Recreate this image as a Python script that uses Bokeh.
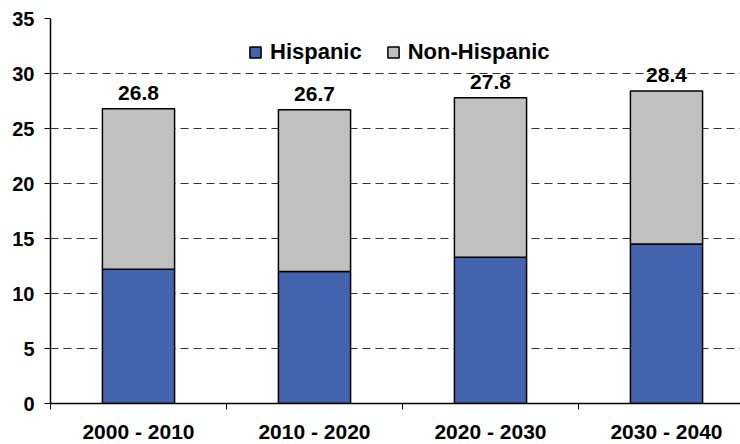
from bokeh.plotting import figure
from bokeh.models import ColumnDataSource, Range1d, FixedTicker, Legend, LegendItem, LabelSet
from bokeh.core.properties import value
from bokeh.embed import file_html
from bokeh.resources import INLINE

categories = ["2000 - 2010", "2010 - 2020", "2020 - 2030", "2030 - 2040"]
hispanic = [12.2, 12.0, 13.3, 14.5]
totals = [26.8, 26.7, 27.8, 28.4]
non_hispanic = [round(t - h, 1) for t, h in zip(totals, hispanic)]
y_ticks = [0, 5, 10, 15, 20, 25, 30, 35]

FONT = "Liberation Sans"
BLUE = "#4363AE"
GRAY = "#C0C0C0"

xs = [i + 0.5 for i in range(len(categories))]
source = ColumnDataSource(dict(
    x=xs,
    hispanic=hispanic,
    non_hispanic=non_hispanic,
    total=totals,
    label=[f"{t:.1f}" for t in totals],
))

p = figure(frame_width=690, frame_height=385, output_backend="svg", toolbar_location=None,
           x_range=Range1d(0, 690 / 176), y_range=Range1d(0, 35),
           min_border_left=50, min_border_right=0, min_border_top=18, min_border_bottom=41)
p.outline_line_color = None
p.background_fill_color = "white"
p.border_fill_color = "white"

rs = p.vbar_stack(["hispanic", "non_hispanic"], x="x", width=0.41, source=source,
                  color=[BLUE, GRAY], line_color="black", line_width=1.5)

labels = LabelSet(x="x", y="total", text="label", source=source,
                  text_align="center", text_baseline="bottom", y_offset=9,
                  text_font=value(FONT), text_font_style="bold", text_font_size="21px",
                  text_color="black")
p.add_layout(labels)

# axes
p.yaxis.ticker = FixedTicker(ticks=y_ticks)
p.yaxis.major_label_text_font = FONT
p.yaxis.major_label_text_font_style = "bold"
p.yaxis.major_label_text_font_size = "20px"
p.yaxis.major_label_text_color = "black"
p.yaxis.major_tick_out = 6
p.yaxis.major_tick_in = 0
p.yaxis.minor_tick_line_color = None
p.yaxis.axis_line_color = "black"
p.yaxis.axis_line_width = 1.5
p.yaxis.major_label_standoff = 10

p.xaxis.ticker = FixedTicker(ticks=xs, minor_ticks=list(range(len(categories) + 1)))
p.xaxis.major_label_overrides = {x: c for x, c in zip(xs, categories)}
p.xaxis.major_label_text_font = FONT
p.xaxis.major_label_text_font_style = "bold"
p.xaxis.major_label_text_font_size = "21px"
p.xaxis.major_label_text_color = "black"
p.xaxis.major_tick_line_color = None
p.xaxis.major_tick_out = 0
p.xaxis.major_tick_in = 0
p.xaxis.minor_tick_out = 6
p.xaxis.minor_tick_in = 0
p.xaxis.minor_tick_line_color = "black"
p.xaxis.axis_line_color = "black"
p.xaxis.axis_line_width = 1.5
p.xaxis.major_label_standoff = 10

p.xgrid.grid_line_color = None
p.ygrid.ticker = FixedTicker(ticks=y_ticks[1:])
p.ygrid.grid_line_color = "#333333"
p.ygrid.grid_line_dash = "8 5"
p.ygrid.grid_line_width = 1

legend = Legend(items=[LegendItem(label="Hispanic", renderers=[rs[0]]),
                       LegendItem(label="Non-Hispanic", renderers=[rs[1]])],
                orientation="horizontal", location=(198, 338),
                label_text_font=FONT, label_text_font_style="bold",
                label_text_font_size="22px", label_text_color="black",
                glyph_width=14, glyph_height=14, label_standoff=8,
                spacing=24, padding=0, margin=0,
                border_line_color=None, background_fill_alpha=0)
p.add_layout(legend)

open("out.html", "w").write(file_html(p, INLINE))
